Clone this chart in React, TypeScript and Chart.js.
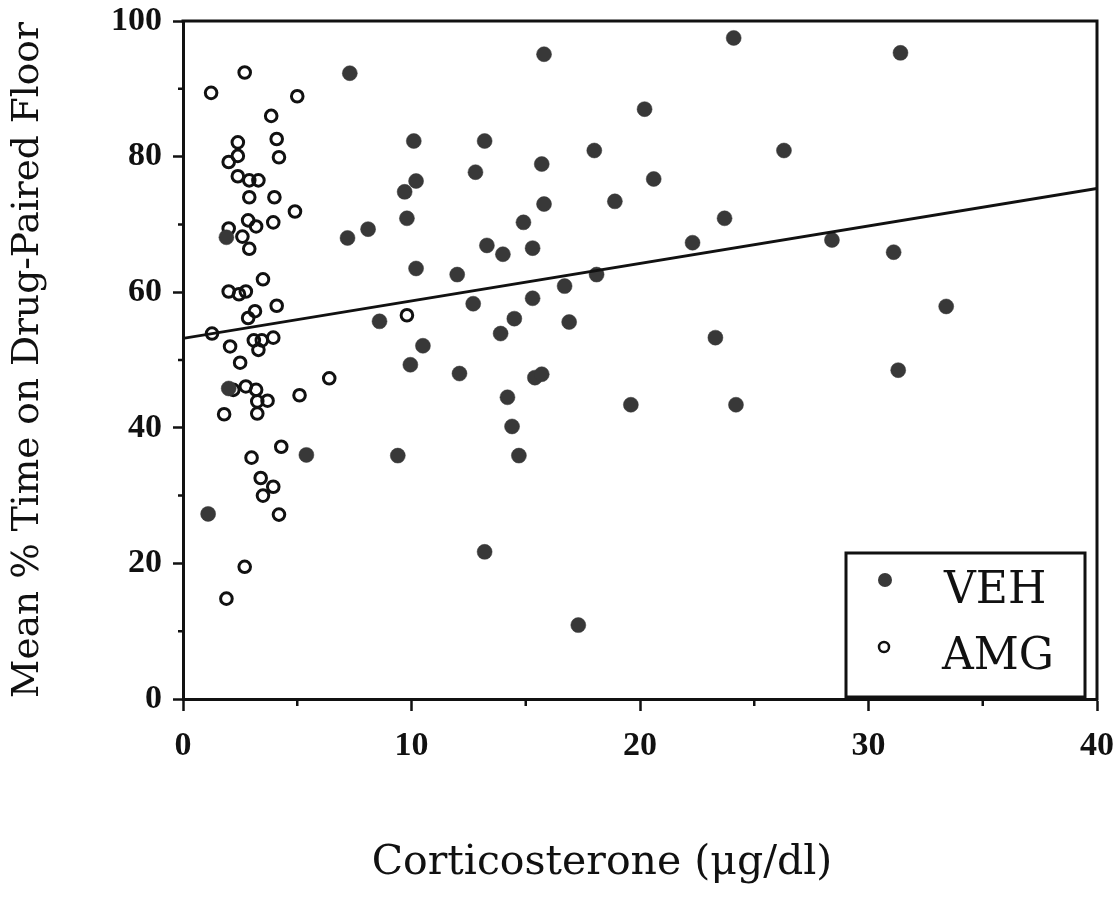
import React, { useEffect, useRef } from "react";
import { Chart, registerables } from "chart.js";

Chart.register(...registerables);

// ---- data ----
const VEH_X = [1.1, 1.9, 2.0, 5.4, 7.3, 7.2, 8.1, 8.6, 9.4, 9.7, 9.8, 9.95, 10.1, 10.2, 10.2, 10.5, 12.0, 12.1, 12.7, 12.8, 13.2, 13.2, 13.3, 14.0, 13.9, 14.2, 14.5, 14.4, 14.7, 14.9, 15.3, 15.3, 15.4, 15.7, 15.7, 15.8, 15.8, 16.7, 16.9, 17.3, 18.0, 18.1, 18.9, 19.6, 20.2, 20.6, 22.3, 23.3, 23.7, 24.1, 24.2, 26.3, 28.4, 31.1, 31.3, 31.4, 33.4];
const VEH_Y = [27.3, 68.1, 45.8, 36.0, 92.3, 68.0, 69.3, 55.7, 35.9, 74.8, 70.9, 49.3, 82.3, 76.4, 63.5, 52.1, 62.6, 48.0, 58.3, 77.7, 21.7, 82.3, 66.9, 65.6, 53.9, 44.5, 56.1, 40.2, 35.9, 70.3, 66.5, 59.1, 47.4, 47.9, 78.9, 73.0, 95.1, 60.9, 55.6, 10.9, 80.9, 62.6, 73.4, 43.4, 87.0, 76.7, 67.3, 53.3, 70.9, 97.5, 43.4, 80.9, 67.7, 65.9, 48.5, 95.3, 57.9];

const AMG_X = [1.23, 2.7, 5.0, 3.86, 2.4, 4.1, 2.4, 2.0, 4.2, 2.4, 2.9, 3.3, 2.9, 4.0, 4.9, 2.0, 2.85, 3.2, 3.95, 2.6, 2.9, 3.5, 2.0, 2.45, 2.75, 4.1, 3.15, 2.85, 1.27, 2.06, 3.1, 3.45, 3.95, 3.3, 2.5, 2.2, 2.75, 3.2, 3.7, 3.25, 3.25, 1.8, 5.1, 6.4, 9.8, 4.3, 3.0, 3.4, 3.95, 3.5, 4.2, 2.7, 1.9];
const AMG_Y = [89.4, 92.4, 88.9, 86.0, 82.1, 82.6, 80.1, 79.2, 79.9, 77.1, 76.5, 76.5, 74.0, 74.0, 71.9, 69.4, 70.6, 69.7, 70.3, 68.2, 66.4, 61.9, 60.1, 59.7, 60.1, 58.0, 57.2, 56.2, 53.9, 52.0, 52.9, 52.9, 53.3, 51.5, 49.6, 45.6, 46.1, 45.6, 44.0, 43.9, 42.1, 42.0, 44.8, 47.3, 56.6, 37.2, 35.6, 32.6, 31.3, 30.0, 27.2, 19.5, 14.8];

const FIT_X = [0, 40];
const FIT_Y = [53.2, 75.3];

const X_TICKS = [0, 10, 20, 30, 40];
const X_MINOR = [5, 15, 25, 35];
const Y_TICKS = [0, 20, 40, 60, 80, 100];
const Y_MINOR = [10, 30, 50, 70, 90];

const SERIES = ["VEH", "AMG"];
const X_TITLE = "Corticosterone (\u03bcg/dl)";
const Y_TITLE = "Mean % Time on Drug-Paired Floor";

const FONT = "'DejaVu Serif', serif";
const TICK_FONT = "'Liberation Serif', 'Times New Roman', serif";
const INK = "#111111";
const VEH_FILL = "#383838";

const decorPlugin = {
  id: "decor",
  afterDraw(chart: any) {
    const { ctx, chartArea: a, scales } = chart;
    ctx.save();
    // top & right frame
    ctx.strokeStyle = INK;
    ctx.lineWidth = 3;
    ctx.beginPath();
    ctx.moveTo(a.left - 1.5, a.top);
    ctx.lineTo(a.right, a.top);
    ctx.lineTo(a.right, a.bottom + 1.5);
    ctx.stroke();

    // minor ticks
    ctx.lineWidth = 2.5;
    ctx.beginPath();
    for (const v of X_MINOR) {
      const px = scales.x.getPixelForValue(v);
      ctx.moveTo(px, a.bottom);
      ctx.lineTo(px, a.bottom + 7);
    }
    for (const v of Y_MINOR) {
      const py = scales.y.getPixelForValue(v);
      ctx.moveTo(a.left, py);
      ctx.lineTo(a.left - 5, py);
    }
    ctx.stroke();

    // legend box
    const bw = 239;
    const bh = 144;
    const bx = a.right - 251;
    const by = a.bottom - 146;
    ctx.fillStyle = "#ffffff";
    ctx.fillRect(bx, by, bw, bh);
    ctx.lineWidth = 3;
    ctx.strokeStyle = INK;
    ctx.strokeRect(bx, by, bw, bh);

    // legend entries
    ctx.beginPath();
    ctx.fillStyle = VEH_FILL;
    ctx.arc(bx + 39, by + 27, 7, 0, Math.PI * 2);
    ctx.fill();
    ctx.beginPath();
    ctx.lineWidth = 2.5;
    ctx.strokeStyle = INK;
    ctx.fillStyle = "#ffffff";
    ctx.arc(bx + 38, by + 94, 5, 0, Math.PI * 2);
    ctx.fill();
    ctx.stroke();

    ctx.fillStyle = INK;
    ctx.font = `44px ${FONT}`;
    ctx.textAlign = "left";
    ctx.textBaseline = "alphabetic";
    ctx.fillText(SERIES[0], bx + 98, by + 50);
    ctx.fillText(SERIES[1], bx + 96, by + 116);

    // x axis title
    ctx.font = `41px ${FONT}`;
    ctx.textAlign = "center";
    ctx.fillText(X_TITLE, (a.left + a.right) / 2 - 38, a.bottom + 175);
    ctx.restore();
  },
};

export default function App() {
  const ref = useRef<HTMLCanvasElement | null>(null);

  useEffect(() => {
    if (!ref.current) return;
    Chart.defaults.font.family = FONT;
    const veh = VEH_X.map((x, i) => ({ x, y: VEH_Y[i] }));
    const amg = AMG_X.map((x, i) => ({ x, y: AMG_Y[i] }));
    const fit = FIT_X.map((x, i) => ({ x, y: FIT_Y[i] }));

    const chart = new Chart(ref.current, {
      type: "scatter",
      data: {
        datasets: [
          {
            label: "Fit",
            data: fit,
            showLine: true,
            pointRadius: 0,
            borderColor: INK,
            borderWidth: 2.8,
            order: 0,
          } as any,
          {
            label: SERIES[0],
            data: veh,
            pointRadius: 7.5,
            pointBackgroundColor: VEH_FILL,
            pointBorderColor: VEH_FILL,
            pointBorderWidth: 0.5,
            order: 1,
          },
          {
            label: SERIES[1],
            data: amg,
            pointRadius: 5.8,
            pointBackgroundColor: "rgba(255,255,255,0)",
            pointBorderColor: INK,
            pointBorderWidth: 3,
            order: 2,
          },
        ],
      },
      options: {
        responsive: false,
        devicePixelRatio: 1,
        animation: false,
        layout: { padding: { top: 21, right: 23, left: 0, bottom: 0 } },
        plugins: { legend: { display: false }, tooltip: { enabled: false } },
        scales: {
          x: {
            type: "linear",
            min: 0,
            max: 40,
            afterBuildTicks: (s: any) => {
              s.ticks = X_TICKS.map((v) => ({ value: v }));
            },
            afterFit: (s: any) => {
              s.height = 207;
              s.paddingLeft = 0;
              s.paddingRight = 0;
            },
            ticks: {
              font: { size: 34, family: TICK_FONT, weight: "bold" },
              color: INK,
              padding: 15,
              maxRotation: 0,
            },
            grid: {
              drawOnChartArea: false,
              tickLength: 12,
              tickColor: INK,
              tickWidth: 2.5,
            },
            border: { display: true, color: INK, width: 3 },
          },
          y: {
            type: "linear",
            min: 0,
            max: 100,
            afterBuildTicks: (s: any) => {
              s.ticks = Y_TICKS.map((v) => ({ value: v }));
            },
            afterFit: (s: any) => {
              s.width = 183;
              s.paddingTop = 0;
              s.paddingBottom = 0;
            },
            ticks: {
              font: { size: 34, family: TICK_FONT, weight: "bold" },
              color: INK,
              padding: 11,
            },
            grid: {
              drawOnChartArea: false,
              tickLength: 10,
              tickColor: INK,
              tickWidth: 2.5,
            },
            border: { display: true, color: INK, width: 3 },
            title: {
              display: true,
              text: Y_TITLE,
              font: { size: 37.5, family: FONT },
              color: INK,
              padding: { top: 6, bottom: 0 },
            },
          },
        },
      },
      plugins: [decorPlugin],
    });
    return () => chart.destroy();
  }, []);

  return (
    <div style={{ position: "fixed", left: 0, top: 0, width: 1120, height: 906, background: "#fff" }}>
      <canvas ref={ref} width={1120} height={906} style={{ display: "block" }} />
    </div>
  );
}
